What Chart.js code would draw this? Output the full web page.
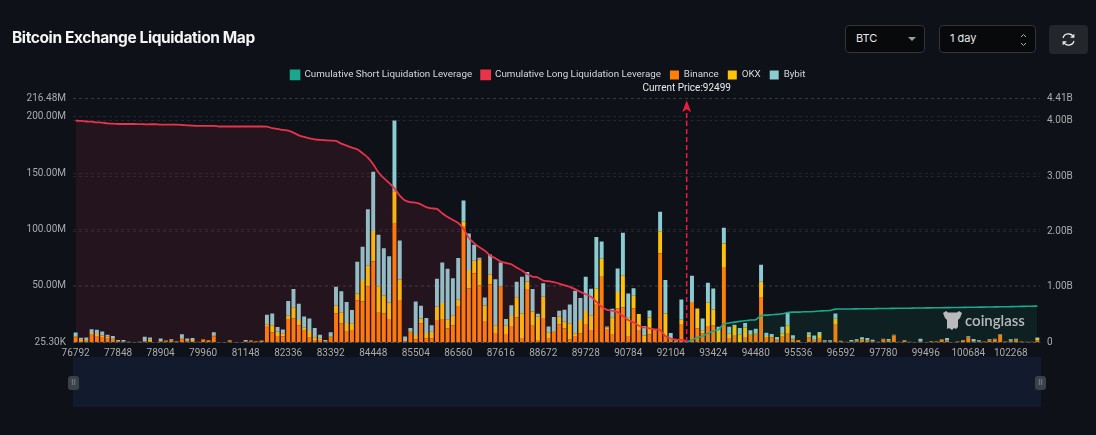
<!DOCTYPE html>
<html>
<head>
<meta charset="utf-8">
<title>Bitcoin Exchange Liquidation Map</title>
<script src="https://cdn.jsdelivr.net/npm/chart.js@4"></script>
<style>
html,body{margin:0;padding:0;background:#0e1118;overflow:hidden;}
#page{position:relative;width:1096px;height:435px;font-family:Inter,Roboto,sans-serif;color:#eef0f2;}
#chart{position:absolute;left:0;top:0;}
h1{position:absolute;left:12px;top:28px;margin:0;font-size:15.5px;line-height:20px;font-weight:700;letter-spacing:-.4px;color:#f4f5f6;}
.box{position:absolute;top:25px;height:26px;border:1px solid #30343b;border-radius:4px;background:#08090b;font-size:11px;line-height:22px;color:#e6e8ea;box-sizing:content-box;}
.box span{position:absolute;left:10px;top:1px;}
#refresh{position:absolute;left:1049px;top:25px;width:39px;height:29px;background:#23272c;border-radius:4px;}
#slider{position:absolute;left:73px;top:357px;width:968px;height:50px;background:#121a2e;}
.handle{position:absolute;top:376px;width:11px;height:14px;background:#3b4148;border-radius:3px;color:#8b9097;font-size:8px;line-height:13px;text-align:center;}
#mark{position:absolute;left:942px;top:309px;width:86px;height:24px;color:#b8babc;}
#mark b{position:absolute;left:23px;top:3px;font:600 15px/16px Lato,Roboto,sans-serif;}
</style>
</head>
<body>
<div id="page">
  <canvas id="chart" width="1096" height="435"></canvas>
  <h1>Bitcoin Exchange Liquidation Map</h1>
  <div class="box" style="left:845px;width:78px"><span>BTC</span>
    <svg style="position:absolute;left:62px;top:11px" width="8" height="5"><path d="M0 0H8L4 4Z" fill="#9a9da1"/></svg>
  </div>
  <div class="box" style="left:939px;width:95px"><span>1 day</span>
    <svg style="position:absolute;left:80px;top:7px" width="7" height="14"><path d="M1 4L3.5 1.5L6 4M1 10L3.5 12.5L6 10" fill="none" stroke="#b0b3b6" stroke-width="1"/></svg>
  </div>
  <div id="refresh">
    <svg style="position:absolute;left:12px;top:7px" width="15" height="15" viewBox="0 0 15 15" fill="none" stroke="#f0f1f2" stroke-width="1.2"><path d="M2 6A5.6 5.6 0 0 1 12.4 5M13 9A5.6 5.6 0 0 1 2.6 10"/><path d="M9.6 5.2H12.8V2.2M5.4 9.8H2.2V12.8"/></svg>
  </div>
  <div id="slider"></div>
  <div class="handle" style="left:68px">II</div>
  <div class="handle" style="left:1035px">II</div>
  <div id="mark">
    <svg style="position:absolute;left:0;top:1px" width="21" height="21" viewBox="0 0 21 21"><path d="M1 3L4 1L6 2.5H15L17 1L20 3L18 8L16 10V17L14 19L12 18L10 20L7 18L5 19V10L3 8Z" fill="#b8babc"/></svg>
    <b>coinglass</b>
  </div>
</div>
<script>
const tickLabels = ['76792','77848','78904','79960','81148','82336','83392','84448','85504','86560','87616','88672','89728','90784','92104','93424','94480','95536','96592','97780','99496','100684','102268'];
const leftTicks = [0.0253,50,100,150,200,216.48];
const leftTickLabels = ['25.30K','50.00M','100.00M','150.00M','200.00M','216.48M'];
const rightTicks = [0,1,2,3,4,4.41];
const rightTickLabels = ['0','1.00B','2.00B','3.00B','4.00B','4.41B'];
const currentPrice = 92499;
const currentPriceIndex = 115;

// millions, one value per price bucket
const binance = [
4,0.9,1,7.1,5.3,4.4,3.5,2,0.3,0.2,0.1,0,0.1,0.5,1,0.1,0.5,0.6,1,0.3,
2.4,0.6,1,0.3,2.2,1,5,0.1,0.1,0.6,0.1,0.1,0.3,0.4,0.3,0.3,14.2,8.6,5.3,5,
20.4,21,14.8,10,3.8,1.8,1.8,0.5,3.8,25.4,16.6,9.2,10.7,37,36,49.4,71.6,26.6,25.4,20.4,
105,37.3,0.5,8.3,2.4,16.6,3.3,3.3,19.5,20.4,12.1,14.8,32,103,47.6,61,50.3,18.6,51,8,
49,7.1,14.2,21.9,3,47,14.5,1.8,21.3,3,8.9,15.7,12.1,2.4,5.3,7.7,16,10.7,33.7,58.6,
11.5,7.1,30,31,5.3,30,10.7,0,7,10.6,78.7,4.7,1.2,1,16,1,35.5,12,7.7,14.2,
15,0,66.6,3.6,6.2,0,4.4,6.2,6.5,40,4.4,4.1,1.5,4.7,8,2.4,1.5,0.1,4.1,1.8,
3.6,0.3,0.2,16,0.8,0.2,0.4,0.8,2,1.5,0.5,0.3,2.5,1,5.7,0.2,1,0.2,0.1,0.8,
0.1,0.2,0.4,2,1.2,0.1,0.5,1.2,4,0.6,0.3,0.3,1.6,2,6.2,0.2,0.8,1.5,0.5,0.3,
0.3,1.6];
const okx = [
1,1.5,0.6,0.9,1.8,1.5,1.2,1,0.3,0.2,0,0,0,0.5,1,0,0.5,0.5,0.3,0.2,
1,0.5,0.7,0,0.2,0.3,1,0,0,0.7,0,0,0.3,0.8,0.4,0.8,1.5,6.2,3.8,2.7,
3,9.8,4.7,2.7,5.9,2.4,1.2,0.5,1,6.8,9.8,7.7,5.9,6.2,19,18.3,27,23,15.7,14.8,
29,18.3,0.5,1.2,3.8,4.4,4.7,5.9,11.8,14.2,7.7,8.9,5.6,4,16.3,11.2,22.8,13.9,8.9,6.8,
0.6,7.4,8.9,17.8,22.5,6.8,12.7,20.7,19,5.3,0.6,6.8,5.9,14.2,2.4,11.8,11.5,13,13.6,15.4,
1.2,14.8,14.5,28.4,16.3,11.2,14.2,5.9,14.8,0,19.8,20.7,1.8,0,3.8,0,0,17.8,2.4,20.7,
14,9.8,21,3.8,8,6.8,8.6,0.6,1.2,13.6,0.9,1.2,0.9,3,6.8,0.6,0.2,0,2.4,0.3,
3.6,0.2,0.1,4.7,0.2,0,0.1,0.3,0.5,0.4,0.2,0,0.2,0.3,0.3,0,0.3,0,0,0.2,
0,0.4,0.1,0.2,0.4,0,0,0.3,0.5,0.3,0.2,0.1,0.3,0.4,0.3,0.2,0.3,0.5,0,0,
0,1];
const bybit = [
3.5,1.5,2.4,3.3,3.8,3.5,1.8,2.4,1.3,1.4,0.1,0,0.2,3.6,2,0,2.2,0.3,1.2,0.3,
3.4,2,1.9,0,0,0.2,2.7,0,0,0.2,0,0,1.2,0.2,0.1,0.3,8.6,10.6,4.2,3.5,
13,16.3,14.5,10,11.2,8.3,3.5,0.8,3.8,16.9,18.6,18.6,11.8,28,29.6,50.3,52.7,45.6,42.3,41,
62.7,34.6,4,3,29.9,11.2,13.3,5.6,24.9,36,45.3,33,37,18.6,32.5,14.2,1.8,7.1,17.8,41,
21,5.9,9.5,13.9,32.5,8.3,20,2.7,12,5.6,12.7,5.3,10.7,16.7,37.9,19.5,30.5,23.7,45.9,15.4,
1,7.7,20.7,37.6,21.6,6.5,0,8.3,6.2,0,17.2,29.6,5,0.5,18,0,23.4,0,10.7,17.8,
18.6,3.8,13.9,6.2,1.2,5.6,3.8,3.6,4.1,15,3,1.8,2.1,5.9,11,3,0.1,0,2.1,3.8,
1.8,1,1.2,4.7,0.1,0,1.3,1.3,1.7,1.6,1.4,0,0.3,1.4,0.5,0,0.2,0,0,2,
0,0,0.1,0.2,2,0,0,0.3,0.7,1.8,1,0.1,0.5,0.5,0.3,0,1.3,1,0,0,
0,1.5];
// billions, right axis
const longLeverage = [
4.005,4,3.99,3.987,3.975,3.97,3.957,3.95,3.945,3.945,3.945,3.945,3.943,3.94,3.94,3.94,3.933,3.933,3.933,3.933,
3.927,3.92,3.915,3.91,3.91,3.91,3.91,3.9,3.9,3.9,3.9,3.9,3.9,3.9,3.9,3.9,3.897,3.87,3.855,3.837,
3.825,3.79,3.74,3.71,3.686,3.668,3.656,3.65,3.644,3.638,3.59,3.554,3.518,3.488,3.415,3.337,3.217,3.067,2.965,2.88,
2.78,2.65,2.56,2.53,2.52,2.49,2.44,2.417,2.41,2.33,2.26,2.21,2.153,2.05,1.888,1.79,1.714,1.654,1.563,1.515,
1.455,1.43,1.407,1.347,1.293,1.227,1.185,1.167,1.112,1.1,1.082,1.058,1.028,0.998,0.956,0.908,0.866,0.818,0.728,0.637,
0.583,0.565,0.541,0.469,0.397,0.355,0.295,0.265,0.247,0.229,0.216,0.108,0.06,0.042,0.036,0.018];
const shortLeverage = [
0.002,0.036,0.085,0.108,0.156,0.198,0.228,0.33,0.343,0.36,0.373,0.385,0.397,0.403,0.475,0.487,0.493,0.5,0.51,0.535,
0.54,0.54,0.547,0.547,0.553,0.56,0.565,0.57,0.595,0.596,0.597,0.598,0.6,0.601,0.602,0.603,0.605,0.606,0.607,0.609,
0.61,0.611,0.612,0.614,0.615,0.617,0.618,0.62,0.621,0.622,0.623,0.625,0.626,0.628,0.629,0.631,0.632,0.634,0.635,0.637,
0.638,0.64,0.642,0.644,0.646,0.648,0.65];

const categories = binance.map((v,i)=> i%8===0 ? tickLabels[i/8] : '');
const longData = categories.map((c,i)=> i<longLeverage.length ? longLeverage[i] : null);
const shortData = categories.map((c,i)=> i<currentPriceIndex ? null : shortLeverage[i-currentPriceIndex]);

const FONT = 'Roboto';
const GRID = 'rgba(255,255,255,0.09)';
const RED = '#e8344a';
const TEAL = '#1aa88c';

// arrow and label for the current price, anchored on the x and y scales
const currentPricePlugin = {
  id:'currentPrice',
  afterDatasetsDraw(chart){
    const ctx = chart.ctx, x = chart.scales.x.getPixelForValue(currentPriceIndex);
    const bottom = chart.scales.y1.getPixelForValue(0), top = chart.chartArea.top;
    ctx.save();
    ctx.strokeStyle = '#ee1c3c'; ctx.fillStyle = '#ee1c3c'; ctx.lineWidth = 1.5;
    ctx.setLineDash([5,3]);
    ctx.beginPath(); ctx.moveTo(x,bottom); ctx.lineTo(x,top+13); ctx.stroke();
    ctx.setLineDash([]);
    ctx.beginPath(); ctx.moveTo(x,top+2); ctx.lineTo(x+4.5,top+14); ctx.lineTo(x,top+11); ctx.lineTo(x-4.5,top+14); ctx.closePath(); ctx.fill();
    ctx.fillStyle = '#e8eaec'; ctx.font = '10px '+FONT; ctx.textAlign = 'center'; ctx.textBaseline = 'middle';
    ctx.fillText('Current Price:'+currentPrice, x, top-10);
    ctx.restore();
  }
};
// push the plot down below the legend
const legendGapPlugin = {
  id:'legendGap',
  beforeInit(chart){
    const fit = chart.legend.fit;
    chart.legend.fit = function(){ fit.call(this); this.height += 8.5; };
  }
};

new Chart(document.getElementById('chart').getContext('2d'), {
  data:{
    labels:categories,
    datasets:[
      {type:'line',label:'Cumulative Short Liquidation Leverage',data:shortData,yAxisID:'y1',borderColor:TEAL,backgroundColor:TEAL,borderWidth:1.6,pointRadius:0,tension:0.2,order:0,fill:{target:'origin',above:'rgba(26,168,140,0.1)'}},
      {type:'line',label:'Cumulative Long Liquidation Leverage',data:longData,yAxisID:'y1',borderColor:RED,backgroundColor:RED,borderWidth:1.8,pointRadius:0,tension:0.2,order:0,fill:{target:'origin',above:'rgba(232,52,74,0.1)'}},
      {type:'bar',label:'Binance',data:binance,yAxisID:'y',backgroundColor:'#ff8008',order:1,stack:'ex'},
      {type:'bar',label:'OKX',data:okx,yAxisID:'y',backgroundColor:'#fcc30a',order:1,stack:'ex'},
      {type:'bar',label:'Bybit',data:bybit,yAxisID:'y',backgroundColor:'#8accd2',order:1,stack:'ex'}
    ]
  },
  plugins:[currentPricePlugin,legendGapPlugin],
  options:{
    responsive:false,
    animation:false,
    layout:{padding:{top:61,bottom:71}},
    datasets:{bar:{categoryPercentage:1,barPercentage:0.74}},
    plugins:{
      tooltip:{enabled:false},
      legend:{
        position:'top',
        align:'center',
        labels:{color:'#d6d8da',font:{family:FONT,size:9.8},boxWidth:9,boxHeight:9,padding:9}
      }
    },
    scales:{
      x:{
        stacked:true,
        grid:{display:false,drawTicks:false},
        border:{color:'rgba(255,255,255,0.12)'},
        ticks:{color:'#a9abae',font:{family:FONT,size:10},autoSkip:false,maxRotation:0,padding:5}
      },
      y:{
        position:'left',stacked:true,min:leftTicks[0],max:216.48,
        afterBuildTicks(s){ s.ticks = leftTicks.map(v=>({value:v})); },
        afterFit(s){ s.width = 73; },
        grid:{color:GRID,drawTicks:false},
        border:{display:false,dash:[3,3]},
        ticks:{color:'#a9abae',font:{family:FONT,size:10},padding:7,callback:v=>leftTickLabels[leftTicks.indexOf(v)]}
      },
      y1:{
        position:'right',min:0,max:4.41,
        afterBuildTicks(s){ s.ticks = rightTicks.map(v=>({value:v})); },
        afterFit(s){ s.width = 56; },
        grid:{color:GRID,drawTicks:false},
        border:{display:false,dash:[3,3]},
        ticks:{color:'#a9abae',font:{family:FONT,size:10},padding:7,callback:v=>rightTickLabels[rightTicks.indexOf(v)]}
      }
    }
  }
});
</script>
</body>
</html>
